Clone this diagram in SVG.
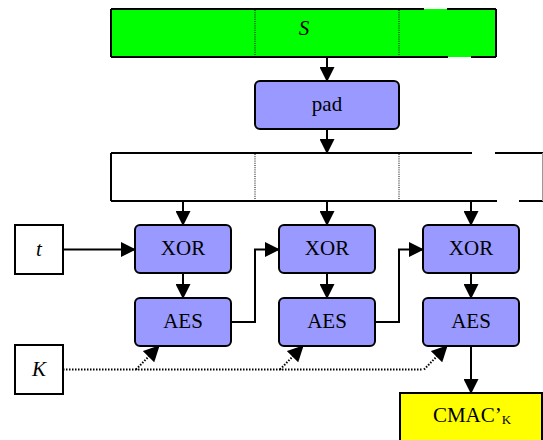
<svg xmlns="http://www.w3.org/2000/svg" width="543" height="440" viewBox="0 0 543 440">
<style>
  .box { fill: #9999FF; stroke: #000; stroke-width: 2; }
  .plain { fill: #fff; stroke: #000; stroke-width: 2; }
  .lbl { font-family: "Liberation Serif", "Times New Roman", serif; font-size: 21px; fill: #000; text-anchor: middle; }
  .it { font-style: italic; }
  .edge { fill: none; stroke: #000; stroke-width: 2; }
  .dot { fill: none; stroke: #000; stroke-width: 2; stroke-dasharray: 1.5 1.5; }
  .div { stroke: #000; stroke-width: 1; stroke-dasharray: 1 1.2; }
  .border { fill: none; stroke: #000; stroke-width: 2; }
</style>
<defs>
  <marker id="arr" markerUnits="userSpaceOnUse" markerWidth="15" markerHeight="15" refX="14" refY="7.5" orient="auto">
    <path d="M0,0 L15,7.5 L0,15 z" fill="#000"/>
  </marker>
  <marker id="arrd" markerUnits="userSpaceOnUse" markerWidth="16" markerHeight="16" refX="15" refY="8" orient="auto">
    <path d="M0,0 L16,8 L0,16 z" fill="#000"/>
  </marker>
</defs>
<rect width="543" height="440" fill="#fff"/>

<g id="S">
  <rect x="111" y="9" width="385" height="48" fill="#00FF00"/>
  <line class="div" x1="255" y1="10" x2="255" y2="56"/>
  <line class="div" x1="399" y1="10" x2="399" y2="56"/>
  <path class="border" d="M111,9 V57 M496,9 V57 M111,9 H424 M447,9 H496 M111,57 H448 M471,57 H496"/>
  <text class="lbl it" x="304" y="35">S</text>
</g>

<g id="pad">
  <rect class="box" x="255" y="81" width="144" height="48" rx="5"/>
  <text class="lbl" x="327" y="111">pad</text>
</g>

<g id="blocks">
  <rect x="111" y="153" width="432" height="48" fill="#fff"/>
  <line class="div" x1="255" y1="154" x2="255" y2="200"/>
  <line class="div" x1="399" y1="154" x2="399" y2="200"/>
  <path class="border" d="M111,153 V201 M111,153 H472 M495,153 H543 M111,201 H497 M519,201 H543"/>
  <line x1="542.5" y1="153" x2="542.5" y2="201" stroke="#999" stroke-width="1"/>
</g>

<g id="t">
  <rect class="plain" x="15" y="225" width="48" height="49"/>
  <text class="lbl it" x="39" y="256">t</text>
</g>
<g id="K">
  <rect class="plain" x="15" y="345" width="48" height="49"/>
  <text class="lbl it" x="39" y="376">K</text>
</g>

<g id="xor1">
  <rect class="box" x="135" y="225" width="96" height="48" rx="5"/>
  <text class="lbl" x="183" y="255">XOR</text>
</g>
<g id="aes1">
  <rect class="box" x="135" y="298" width="96" height="48" rx="5"/>
  <text class="lbl" x="183" y="328">AES</text>
</g>
<g id="xor2">
  <rect class="box" x="279" y="225" width="96" height="48" rx="5"/>
  <text class="lbl" x="327" y="255">XOR</text>
</g>
<g id="aes2">
  <rect class="box" x="279" y="298" width="96" height="48" rx="5"/>
  <text class="lbl" x="327" y="328">AES</text>
</g>
<g id="xor3">
  <rect class="box" x="423" y="225" width="96" height="48" rx="5"/>
  <text class="lbl" x="471" y="255">XOR</text>
</g>
<g id="aes3">
  <rect class="box" x="423" y="298" width="96" height="48" rx="5"/>
  <text class="lbl" x="471" y="328">AES</text>
</g>

<g id="cmac">
  <rect x="400" y="393" width="142" height="50" fill="#FFFF00" stroke="#000" stroke-width="2"/>
  <text class="lbl" x="472" y="422">CMAC’<tspan font-size="13" dy="2">K</tspan></text>
</g>

<g id="connectors">
  <line class="edge" x1="327" y1="57" x2="327" y2="81" marker-end="url(#arr)"/>
  <line class="edge" x1="327" y1="129" x2="327" y2="153" marker-end="url(#arr)"/>
  <line class="edge" x1="183" y1="201" x2="183" y2="225" marker-end="url(#arr)"/>
  <line class="edge" x1="327" y1="201" x2="327" y2="225" marker-end="url(#arr)"/>
  <line class="edge" x1="471" y1="201" x2="471" y2="225" marker-end="url(#arr)"/>
  <line class="edge" x1="183" y1="273" x2="183" y2="298" marker-end="url(#arr)"/>
  <line class="edge" x1="327" y1="273" x2="327" y2="298" marker-end="url(#arr)"/>
  <line class="edge" x1="471" y1="273" x2="471" y2="298" marker-end="url(#arr)"/>
  <line class="edge" x1="63" y1="249.5" x2="135" y2="249.5" marker-end="url(#arr)"/>
  <polyline class="edge" points="231,322 255,322 255,249.5 279,249.5" marker-end="url(#arr)"/>
  <polyline class="edge" points="375,322 399,322 399,249.5 423,249.5" marker-end="url(#arr)"/>
  <line class="edge" x1="471" y1="346" x2="471" y2="393" marker-end="url(#arr)"/>
  <line class="dot" x1="63" y1="369.5" x2="423" y2="369.5"/>
  <line class="dot" x1="136" y1="369.5" x2="159" y2="346" marker-end="url(#arrd)"/>
  <line class="dot" x1="280" y1="369.5" x2="303" y2="346" marker-end="url(#arrd)"/>
  <line class="dot" x1="424" y1="369.5" x2="447" y2="346" marker-end="url(#arrd)"/>
</g>
</svg>
